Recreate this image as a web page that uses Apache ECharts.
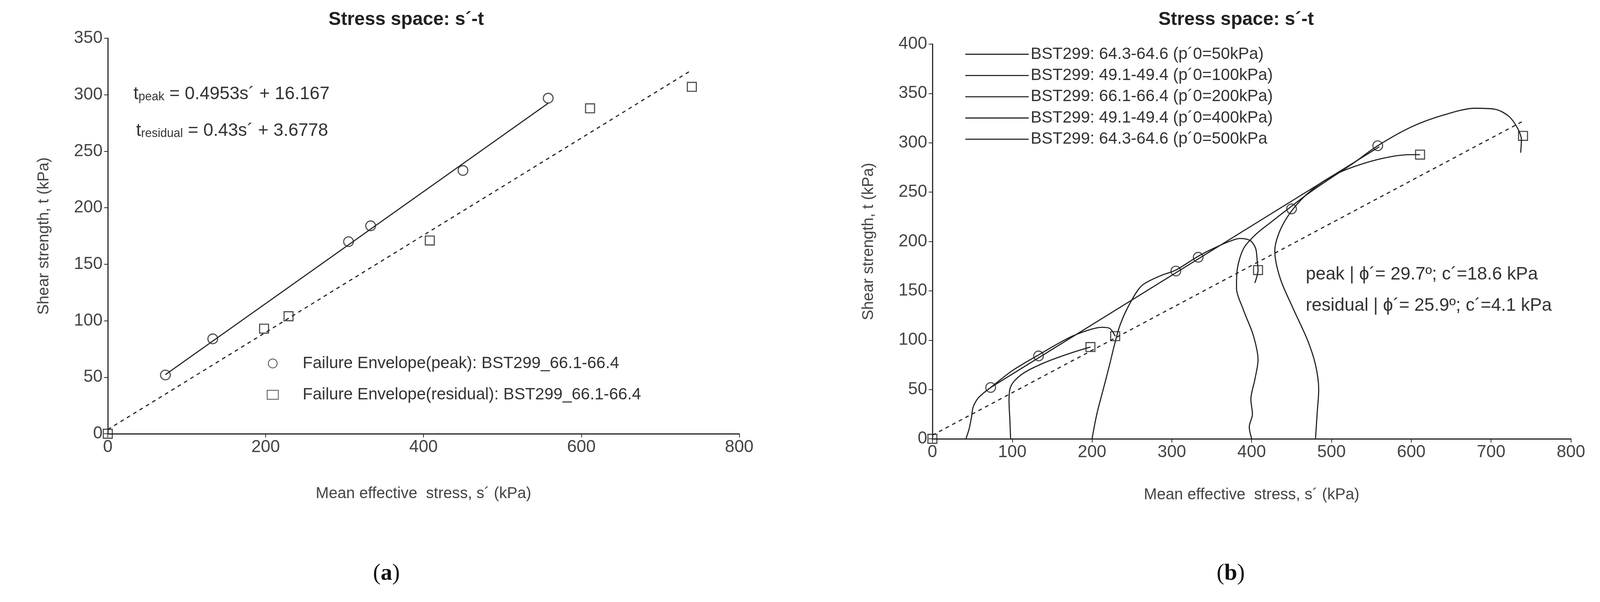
<!DOCTYPE html>
<html><head><meta charset="utf-8">
<script src="https://cdn.jsdelivr.net/npm/echarts@6/dist/echarts.min.js"></script>
<style>html,body{margin:0;padding:0;background:#fff;overflow:hidden}#c{width:100vw;height:100vh}</style>
</head><body><div id="c"></div>
<script>
const peakPts = [[73,52],[133,84],[305,170],[333,184],[450,233],[558,297]];
const resPts = [[0,0],[198,93],[229,104],[408,171],[611,288],[740,307]];
const peakLine = [[73,52.3],[558,292.5]];
const resLine = [[0,3.68],[740,321.9]];
const envLineB = [[73,52],[560,296]];
const path50 = [[42,0],[46,10],[49,22],[51,32],[57,41],[65,47],[73,52],[100,69],[133,85],[170,102],[195,110],[212,113],[222,112],[229,104]];
const path100 = [[98,0],[97,20],[96,38],[97,50],[102,58],[115,67],[140,77],[170,86],[198,93]];
const path200 = [[200,0],[206,25],[214,50],[222,75],[228,95],[235,115],[246,135],[262,155],[285,165],[305,171],[333,185],[355,194],[372,200],[385,203],[398,201],[405,193],[407,180],[408,171],[404,158]];
const path400 = [[400,0],[397,12],[401,25],[399,40],[404,60],[408,80],[402,105],[390,130],[381,153],[382,172],[390,193],[405,207],[425,220],[444,232],[470,248],[495,262],[525,278],[558,297],[600,316],[640,328],[680,335],[705,334],[722,327],[733,315],[738,303],[737,290]];
const path500 = [[480,0],[482,25],[484,50],[480,75],[470,100],[452,132],[436,162],[429,190],[436,212],[452,233],[475,252],[505,268],[540,279],[575,286],[600,288],[611,288]];
const legendNames = ['BST299: 64.3-64.6 (p\u00b40=50kPa)','BST299: 49.1-49.4 (p\u00b40=100kPa)','BST299: 66.1-66.4 (p\u00b40=200kPa)','BST299: 49.1-49.4 (p\u00b40=400kPa)','BST299: 64.3-64.6 (p\u00b40=500kPa'];

const el = document.getElementById('c');
const W = el.clientWidth || 4290, H = el.clientHeight || 1542;
const sx = W/4290, sy = H/1542, sc = Math.min(sx, sy);
const X = v => v*sx, Y = v => v*sy, S = v => v*sc;

const F = "'Liberation Sans Narrow','Liberation Sans',Arial,sans-serif";
function ax(max, interval, name, gap, rot, i){
  return {type:'value', gridIndex:i, min:0, max, interval, name, nameLocation:'middle', nameGap:S(gap), nameRotate:rot,
    nameTextStyle:{fontFamily:F,fontSize:S(42),color:'#444'},
    axisLine:{show:true,lineStyle:{color:'#222',width:S(3)}},
    axisTick:{show:true,length:S(10),lineStyle:{color:'#222',width:S(2)}},
    axisLabel:{fontFamily:F,fontSize:S(46),color:'#444',margin:S(14)},
    splitLine:{show:false}};
}
const line = (d, xi, dashed, name) => ({type:'line', name, xAxisIndex:xi, yAxisIndex:xi, data:d, symbol:'none', smooth:dashed===null?0.3:false,
  lineStyle:{color:'#222',width:S(3),type:dashed?[S(10),S(10)]:'solid'}, silent:true, z:2});
const circ = (d,xi,name)=>({type:'scatter',name,xAxisIndex:xi,yAxisIndex:xi,data:d,symbol:'circle',symbolSize:S(26),itemStyle:{color:'rgba(0,0,0,0)',borderColor:'#222',borderWidth:S(3)},z:5});
const sq = (d,xi,name)=>({type:'scatter',name,xAxisIndex:xi,yAxisIndex:xi,data:d,symbol:'rect',symbolSize:S(24),itemStyle:{color:'rgba(0,0,0,0)',borderColor:'#222',borderWidth:S(3)},z:5});

const chart = echarts.init(el);
const paths=[path50,path100,path200,path400,path500];
const TF = "'Liberation Sans',Arial,sans-serif";
const serif = "'Liberation Serif',serif";
chart.setOption({
  animation:false,
  title:[
    {text:'Stress space: s\u00b4-t',left:X(1084),top:Y(22),textAlign:'center',textStyle:{fontFamily:TF,fontWeight:'bold',fontSize:S(50),color:'#222'}},
    {text:'Stress space: s\u00b4-t',left:X(3309),top:Y(22),textAlign:'center',textStyle:{fontFamily:TF,fontWeight:'bold',fontSize:S(50),color:'#222'}}
  ],
  grid:[{left:X(289),top:Y(98),width:X(1693),height:Y(1013)},{left:X(2500),top:Y(113),width:X(1712),height:Y(1011)}],
  xAxis:[ax(800,200,'Mean effective  stress, s\u00b4 (kPa)',140,0,0), ax(800,100,'Mean effective  stress, s\u00b4 (kPa)',130,0,1)],
  yAxis:[ax(350,50,'Shear strength, t (kPa)',150,90,0), ax(400,50,'Shear strength, t (kPa)',150,90,1)],
  legend:[
    {data:['Failure Envelope(peak): BST299_66.1-66.4','Failure Envelope(residual): BST299_66.1-66.4'],orient:'vertical',left:X(710),top:Y(905),itemGap:S(40),itemWidth:S(30),itemHeight:S(24),
     textStyle:{fontFamily:F,fontSize:S(44),color:'#333',padding:[0,0,0,S(60)]}},
    {data:legendNames,orient:'vertical',left:X(2583),top:Y(113),itemGap:S(13),itemWidth:S(170),itemHeight:S(43),icon:'path://M0,20L170,20L170,23L0,23Z',
     textStyle:{fontFamily:F,fontSize:S(44),color:'#333'},itemStyle:{color:'#222'}}
  ],
  graphic:[
    {type:'text',left:X(358),top:Y(218),style:{rich:{m:{fontFamily:F,fontSize:S(48),fill:'#333'},s:{fontFamily:F,fontSize:S(32),fill:'#333',verticalAlign:'bottom'}},text:'{m|t}{s|peak}{m| = 0.4953s\u00b4 + 16.167}'}},
    {type:'text',left:X(365),top:Y(312),style:{rich:{m:{fontFamily:F,fontSize:S(48),fill:'#333'},s:{fontFamily:F,fontSize:S(32),fill:'#333',verticalAlign:'bottom'}},text:'{m|t}{s|residual}{m| = 0.43s\u00b4 + 3.6778}'}},
    {type:'text',left:X(3501),top:Y(680),style:{text:'peak | \u03d5\u00b4= 29.7\u00ba; c\u00b4=18.6 kPa',fontFamily:F,fontSize:S(48),fill:'#333'}},
    {type:'text',left:X(3501),top:Y(760),style:{text:'residual | \u03d5\u00b4= 25.9\u00ba; c\u00b4=4.1 kPa',fontFamily:F,fontSize:S(48),fill:'#333'}},
    {type:'text',left:X(1000),top:Y(1440),style:{rich:{p:{fontFamily:serif,fontSize:S(62),fill:'#111'},b:{fontFamily:serif,fontSize:S(62),fontWeight:'bold',fill:'#111'}},text:'{p|(}{b|a}{p|)}'}},
    {type:'text',left:X(3262),top:Y(1440),style:{rich:{p:{fontFamily:serif,fontSize:S(62),fill:'#111'},b:{fontFamily:serif,fontSize:S(62),fontWeight:'bold',fill:'#111'}},text:'{p|(}{b|b}{p|)}'}}
  ],
  series:[
    line(peakLine,0,false), line(resLine,0,true),
    circ(peakPts,0,'Failure Envelope(peak): BST299_66.1-66.4'), sq(resPts,0,'Failure Envelope(residual): BST299_66.1-66.4'),
    line(envLineB,1,false), line(resLine,1,true),
    ...paths.map((p,i)=>line(p,1,null,legendNames[i])),
    circ(peakPts,1), sq(resPts,1)
  ]
});
</script></body></html>
